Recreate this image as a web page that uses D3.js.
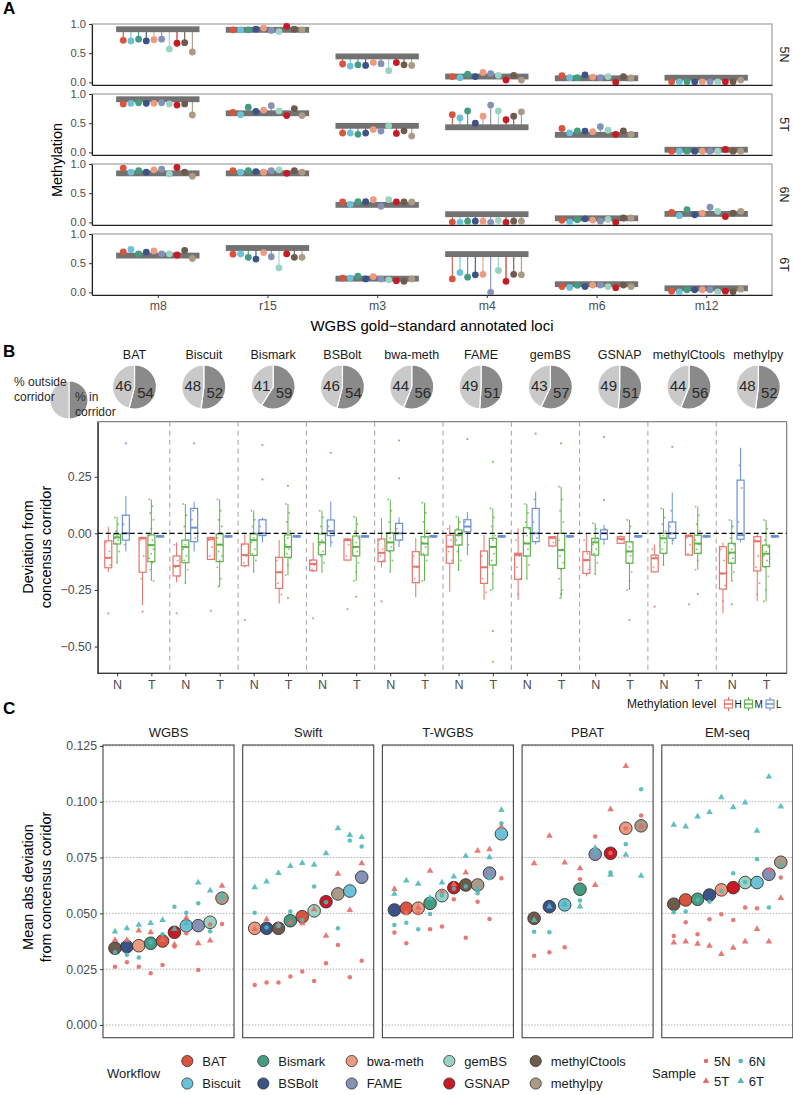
<!DOCTYPE html>
<html>
<head>
<meta charset="utf-8">
<script src="https://cdn.jsdelivr.net/npm/d3@7"></script>
<style>
  body { margin: 0; background: #fff; }
  text { font-family: "Liberation Sans", Arial, sans-serif; }
</style>
</head>
<body>
<svg id="chart" width="793" height="1095"></svg>
<script>
// ---------------- data ----------------
const workflows = ["BAT", "Biscuit", "Bismark", "BSBolt", "bwa-meth", "FAME", "gemBS", "GSNAP", "methylCtools", "methylpy"];
const wfColors = ["#d9543f", "#6cc1d7", "#449d80", "#3b5386", "#eb9b80", "#8591b5", "#9ad3c5", "#c81a24", "#6e5b4b", "#aa9a86"];

// panel A: methylation per locus, one row per locus, one value per workflow
const loci = ["m8", "r15", "m3", "m4", "m6", "m12"];
const samples = ["5N", "5T", "6N", "6T"];
const cons5N = [0.91, 0.90, 0.445, 0.10, 0.07, 0.08];
const cons5T = [0.91, 0.67, 0.455, 0.43, 0.30, 0.045];
const cons6N = [0.84, 0.84, 0.30, 0.14, 0.07, 0.145];
const cons6T = [0.63, 0.76, 0.235, 0.655, 0.14, 0.07];
const meth5N = [
  [0.72, 0.71, 0.74, 0.71, 0.73, 0.74, 0.57, 0.67, 0.68, 0.52],
  [0.90, 0.90, 0.90, 0.91, 0.93, 0.89, 0.87, 0.96, 0.91, 0.90],
  [0.315, 0.28, 0.30, 0.29, 0.34, 0.32, 0.20, 0.34, 0.30, 0.29],
  [0.10, 0.08, 0.14, 0.10, 0.17, 0.15, 0.12, 0.04, 0.12, 0.04],
  [0.115, 0.08, 0.08, 0.13, 0.09, 0.08, 0.10, 0.0, 0.10, 0.075],
  [0.01, 0.01, 0.01, 0.01, 0.01, 0.01, 0.01, 0.01, 0.01, 0.04]
];
const meth5T = [
  [0.83, 0.84, 0.85, 0.84, 0.84, 0.85, 0.83, 0.81, 0.83, 0.64],
  [0.685, 0.645, 0.775, 0.70, 0.725, 0.80, 0.71, 0.63, 0.75, 0.63],
  [0.33, 0.33, 0.31, 0.33, 0.39, 0.365, 0.455, 0.325, 0.37, 0.28],
  [0.645, 0.59, 0.71, 0.50, 0.62, 0.81, 0.71, 0.56, 0.62, 0.695],
  [0.41, 0.335, 0.37, 0.365, 0.355, 0.44, 0.38, 0.31, 0.37, 0.31],
  [0.02, 0.02, 0.02, 0.02, 0.02, 0.02, 0.02, 0.05, 0.02, 0.02]
];
const meth6N = [
  [0.93, 0.86, 0.885, 0.86, 0.90, 0.91, 0.83, 0.94, 0.86, 0.79],
  [0.885, 0.86, 0.885, 0.87, 0.86, 0.885, 0.90, 0.84, 0.885, 0.86],
  [0.35, 0.31, 0.355, 0.355, 0.39, 0.275, 0.39, 0.35, 0.35, 0.35],
  [0.005, 0.0, 0.02, 0.02, 0.02, 0.0, 0.03, 0.0, 0.02, 0.02],
  [0.035, 0.005, 0.045, 0.06, 0.04, 0.02, 0.05, 0.0, 0.075, 0.075],
  [0.17, 0.115, 0.22, 0.13, 0.16, 0.26, 0.19, 0.10, 0.16, 0.19]
];
const meth6T = [
  [0.695, 0.735, 0.66, 0.69, 0.71, 0.66, 0.66, 0.64, 0.72, 0.58],
  [0.655, 0.66, 0.60, 0.57, 0.68, 0.61, 0.42, 0.66, 0.60, 0.60],
  [0.245, 0.245, 0.28, 0.23, 0.27, 0.23, 0.215, 0.20, 0.19, 0.23],
  [0.23, 0.34, 0.26, 0.30, 0.31, 0.0, 0.375, 0.19, 0.31, 0.30],
  [0.10, 0.085, 0.12, 0.10, 0.125, 0.125, 0.10, 0.08, 0.125, 0.10],
  [0.02, 0.01, 0.045, 0.045, 0.045, 0.045, 0.01, 0.02, 0.01, 0.055]
];
const corridorHalf = 0.05;

// panel B: pies (% outside / % in corridor)
const pieOutside = [46, 48, 41, 46, 44, 49, 43, 49, 44, 48];
const pieInside = [54, 52, 59, 54, 56, 51, 57, 51, 56, 52];

// panel B: boxplots [lo, q1, median, q3, hi], per workflow: [N, T]
const levels = ["H", "M", "L"];
const tissues = ["N", "T"];
const boxH = [
  [[-0.172, -0.152, -0.108, -0.033, 0.03], [-0.317, -0.172, -0.022, -0.018, -0.016]],
  [[-0.216, -0.188, -0.144, -0.10, -0.04], [-0.118, -0.115, -0.026, -0.018, -0.015]],
  [[-0.15, -0.143, -0.096, -0.047, 0.0], [-0.31, -0.243, -0.172, -0.106, -0.03]],
  [[-0.17, -0.165, -0.135, -0.118, -0.04], [-0.118, -0.118, -0.03, -0.025, -0.02]],
  [[-0.15, -0.125, -0.086, -0.025, 0.066], [-0.283, -0.218, -0.147, -0.081, -0.02]],
  [[-0.258, -0.132, -0.059, -0.008, 0.037], [-0.294, -0.221, -0.15, -0.078, -0.008]],
  [[-0.294, -0.203, -0.095, -0.088, 0.022], [-0.06, -0.056, -0.02, -0.015, -0.012]],
  [[-0.19, -0.177, -0.118, -0.081, 0.0], [-0.048, -0.044, -0.025, -0.015, -0.01]],
  [[-0.17, -0.17, -0.11, -0.096, -0.05], [-0.096, -0.096, -0.012, -0.008, -0.005]],
  [[-0.353, -0.246, -0.177, -0.059, -0.04], [-0.30, -0.166, -0.035, -0.015, 0.0]]
];
const boxM = [
  [[-0.13, -0.047, -0.018, -0.004, 0.073], [-0.21, -0.125, -0.052, -0.007, 0.15]],
  [[-0.22, -0.13, -0.06, -0.03, 0.13], [-0.235, -0.125, -0.05, -0.003, 0.15]],
  [[-0.17, -0.097, -0.03, -0.003, 0.10], [-0.185, -0.106, -0.06, -0.007, 0.13]],
  [[-0.17, -0.094, -0.04, -0.003, 0.10], [-0.21, -0.10, -0.06, -0.012, 0.073]],
  [[-0.17, -0.077, -0.04, 0.003, 0.15], [-0.21, -0.096, -0.045, -0.015, 0.135]],
  [[-0.162, -0.052, -0.008, 0.015, 0.073], [-0.25, -0.14, -0.06, -0.022, 0.11]],
  [[-0.20, -0.10, -0.045, 0.025, 0.13], [-0.287, -0.155, -0.074, 0.0, 0.206]],
  [[-0.18, -0.096, -0.04, -0.022, 0.045], [-0.25, -0.132, -0.08, -0.037, 0.06]],
  [[-0.14, -0.088, -0.022, 0.0, 0.11], [-0.16, -0.088, -0.045, -0.008, 0.118]],
  [[-0.21, -0.132, -0.085, -0.044, 0.059], [-0.30, -0.147, -0.09, -0.052, 0.059]]
];
const boxL = [
  [[-0.08, -0.03, 0.0, 0.08, 0.165], [-0.02, -0.016, -0.013, -0.011, -0.008]],
  [[-0.08, -0.037, 0.025, 0.11, 0.14], [-0.02, -0.016, -0.013, -0.011, -0.008]],
  [[-0.04, -0.01, 0.0, 0.06, 0.07], [-0.02, -0.016, -0.013, -0.011, -0.008]],
  [[-0.06, -0.01, 0.01, 0.059, 0.14], [-0.02, -0.016, -0.013, -0.011, -0.008]],
  [[-0.06, -0.03, 0.0, 0.044, 0.07], [-0.02, -0.016, -0.013, -0.011, -0.008]],
  [[-0.096, 0.007, 0.03, 0.06, 0.095], [-0.02, -0.016, -0.013, -0.011, -0.008]],
  [[-0.05, -0.037, 0.0, 0.11, 0.184], [-0.02, -0.016, -0.013, -0.011, -0.008]],
  [[-0.05, -0.026, 0.0, 0.015, 0.037], [-0.02, -0.016, -0.013, -0.011, -0.008]],
  [[-0.05, -0.022, 0.0, 0.05, 0.18], [-0.02, -0.016, -0.013, -0.011, -0.008]],
  [[-0.04, -0.026, -0.008, 0.235, 0.378], [-0.02, -0.016, -0.013, -0.011, -0.008]]
];
// outliers, per workflow: [N, T]
const outH = [[[-0.353], [-0.346]], [[-0.353], [-0.342]], [[-0.383], []], [[-0.375], [-0.335]], [[-0.30], []],
  [[], []], [[], []], [[], []], [[-0.324], [-0.313]], [[], []]];
const outM = [[[], []], [[], []], [[], [0.21, -0.286]], [[], [-0.28]], [[], []],
  [[], [0.316, -0.431, -0.567]], [[], [0.397, -0.268]], [[], [-0.383]], [[], [-0.268]], [[-0.313], []]];
const outL = [[[0.397], []], [[0.397], []], [[0.39, 0.238], []], [[0.356], []], [[0.41, 0.243], []],
  [[0.416], []], [[0.44], []], [[0.147, 0.425], []], [[0.382], []], [[], []]];
// individual loci (jittered points), per workflow: [N, T]
const ptsH = [
  [[-0.04, -0.08, -0.11, -0.14], [-0.03, -0.1, -0.2]],
  [[-0.05, -0.12, -0.15, -0.19], [-0.03, -0.06, -0.1]],
  [[-0.05, -0.1, -0.13], [-0.12, -0.17, -0.22, -0.27]],
  [[-0.12, -0.14, -0.16], [-0.03, -0.05, -0.1]],
  [[-0.03, -0.07, -0.1, -0.12], [-0.1, -0.15, -0.2]],
  [[0.02, -0.03, -0.08, -0.12], [-0.1, -0.15, -0.2, -0.26]],
  [[-0.03, -0.1, -0.15, -0.2, -0.27], [-0.02, -0.04]],
  [[-0.03, -0.09, -0.12, -0.16], [-0.02, -0.03]],
  [[-0.07, -0.1, -0.15], [-0.02, -0.05, -0.09]],
  [[-0.07, -0.12, -0.18, -0.23, -0.3], [-0.03, -0.1, -0.15, -0.22, -0.27]]
];
const ptsM = [
  [[0.07, 0.04, 0.01, -0.005, -0.012, -0.02, -0.03, -0.045, -0.08, -0.13], [0.15, 0.12, 0.09, 0.06, 0.02, -0.01, -0.03, -0.05, -0.07, -0.09, -0.11, -0.13, -0.16, -0.21]],
  [[0.13, 0.08, 0.03, -0.03, -0.05, -0.07, -0.1, -0.12, -0.16, -0.22], [0.15, 0.1, 0.06, 0.03, 0.0, -0.02, -0.05, -0.08, -0.1, -0.12, -0.15, -0.2, -0.235]],
  [[0.1, 0.06, 0.03, 0.0, -0.02, -0.04, -0.07, -0.09, -0.12, -0.17], [0.13, 0.09, 0.05, 0.01, -0.02, -0.05, -0.07, -0.09, -0.11, -0.14, -0.185]],
  [[0.1, 0.07, 0.03, 0.0, -0.03, -0.05, -0.08, -0.1, -0.13, -0.17], [0.073, 0.04, 0.01, -0.02, -0.04, -0.06, -0.08, -0.1, -0.13, -0.17, -0.21]],
  [[0.15, 0.1, 0.05, 0.0, -0.02, -0.04, -0.06, -0.08, -0.12, -0.17], [0.135, 0.09, 0.05, 0.01, -0.02, -0.04, -0.06, -0.09, -0.12, -0.16, -0.21]],
  [[0.073, 0.05, 0.02, 0.0, -0.01, -0.03, -0.05, -0.08, -0.12, -0.162], [0.11, 0.07, 0.03, -0.01, -0.03, -0.06, -0.09, -0.12, -0.14, -0.18, -0.25]],
  [[0.13, 0.09, 0.05, 0.02, -0.01, -0.04, -0.07, -0.1, -0.14, -0.2], [0.206, 0.15, 0.1, 0.05, 0.0, -0.03, -0.07, -0.1, -0.13, -0.16, -0.2, -0.25, -0.287]],
  [[0.045, 0.02, 0.0, -0.02, -0.03, -0.05, -0.07, -0.09, -0.13, -0.18], [0.06, 0.03, 0.0, -0.04, -0.06, -0.08, -0.1, -0.13, -0.17, -0.21, -0.25]],
  [[0.11, 0.07, 0.04, 0.01, -0.01, -0.02, -0.04, -0.07, -0.09, -0.14], [0.118, 0.08, 0.04, 0.01, -0.01, -0.03, -0.05, -0.07, -0.09, -0.12, -0.16]],
  [[0.059, 0.03, -0.02, -0.05, -0.07, -0.09, -0.11, -0.13, -0.17, -0.21], [0.059, 0.02, -0.03, -0.06, -0.08, -0.1, -0.12, -0.15, -0.19, -0.25, -0.3]]
];
const ptsL = [
  [[0.04, 0.0, -0.05], [-0.01, -0.012, -0.015]],
  [[0.06, -0.02, 0.1], [-0.01, -0.012, -0.015]],
  [[0.03, 0.0], [-0.01, -0.012, -0.015]],
  [[0.03, -0.04], [-0.01, -0.012, -0.015]],
  [[0.02, -0.03], [-0.01, -0.012, -0.015]],
  [[0.05, -0.05], [-0.01, -0.012, -0.015]],
  [[0.05, -0.02, 0.15], [-0.01, -0.012, -0.015]],
  [[0.0, 0.02], [-0.01, -0.012, -0.015]],
  [[0.03, -0.03, 0.1], [-0.01, -0.012, -0.015]],
  [[0.05, 0.2, 0.3], [-0.01, -0.012, -0.015]]
];

// panel C: mean abs deviation, workflows sorted per protocol
const protocols = ["WGBS", "Swift", "T-WGBS", "PBAT", "EM-seq"];
const orderWGBS = ["methylCtools", "BSBolt", "bwa-meth", "Bismark", "BAT", "GSNAP", "Biscuit", "FAME", "gemBS", "methylpy"];
const meanWGBS = [0.0344, 0.0351, 0.0355, 0.0366, 0.0376, 0.0415, 0.0444, 0.0445, 0.046, 0.0568];
const s5N_WGBS = [0.0261, 0.0281, 0.0261, 0.0232, 0.0269, 0.0351, 0.0411, 0.0246, 0.045, 0.0452];
const s5T_WGBS = [0.038, 0.038, 0.0423, 0.0415, 0.038, 0.036, 0.048, 0.0366, 0.0378, 0.0623];
const s6N_WGBS = [0.0326, 0.0314, 0.0302, 0.037, 0.0406, 0.053, 0.0503, 0.0545, 0.042, 0.057];
const s6T_WGBS = [0.0418, 0.0433, 0.0448, 0.0456, 0.047, 0.0429, 0.0455, 0.0638, 0.0602, 0.058];

const orderSwift = ["bwa-meth", "BSBolt", "methylCtools", "Bismark", "BAT", "gemBS", "GSNAP", "methylpy", "Biscuit", "FAME"];
const meanSwift = [0.0433, 0.0433, 0.0433, 0.0467, 0.0485, 0.0511, 0.0552, 0.0587, 0.060, 0.0662];
const s5N_Swift = [0.0179, 0.019, 0.019, 0.0217, 0.0239, 0.0197, 0.0276, 0.0358, 0.0214, 0.0288];
const s5T_Swift = [0.043, 0.0473, 0.045, 0.046, 0.0455, 0.0518, 0.0399, 0.0677, 0.0515, 0.0724];
const s6N_Swift = [0.0503, 0.0437, 0.0443, 0.0508, 0.047, 0.062, 0.055, 0.0433, 0.0826, 0.0799];
const s6T_Swift = [0.0617, 0.0642, 0.068, 0.0712, 0.0725, 0.0717, 0.0769, 0.0881, 0.0851, 0.0841];

const orderTWGBS = ["BSBolt", "BAT", "bwa-meth", "Bismark", "gemBS", "GSNAP", "methylCtools", "methylpy", "FAME", "Biscuit"];
const meanTWGBS = [0.0515, 0.0523, 0.0523, 0.0545, 0.0579, 0.0615, 0.0627, 0.0627, 0.068, 0.0856];
const s5N_TWGBS = [0.0414, 0.0366, 0.050, 0.0429, 0.0441, 0.0563, 0.0391, 0.0552, 0.0475, 0.0657];
const s5T_TWGBS = [0.0609, 0.050, 0.0525, 0.069, 0.0597, 0.063, 0.0683, 0.078, 0.0787, 0.0889];
const s6N_TWGBS = [0.0448, 0.0458, 0.0429, 0.0497, 0.058, 0.061, 0.062, 0.059, 0.0657, 0.0904];
const s6T_TWGBS = [0.0587, 0.0647, 0.0632, 0.0568, 0.0638, 0.0665, 0.0757, 0.061, 0.0751, 0.0963];

const orderPBAT = ["methylCtools", "BSBolt", "Biscuit", "Bismark", "FAME", "GSNAP", "bwa-meth", "methylpy"];
const meanPBAT = [0.0478, 0.053, 0.0538, 0.0608, 0.0765, 0.0769, 0.0881, 0.0892];
const s5N_PBAT = [0.031, 0.0326, 0.0348, 0.0653, 0.0844, 0.077, 0.088, 0.0938];
const s5T_PBAT = [0.0724, 0.0847, 0.0727, 0.0702, 0.0627, 0.0966, 0.116, 0.089];
const s6N_PBAT = [0.0418, 0.0415, 0.054, 0.0557, 0.077, 0.0683, 0.081, 0.1056];
const s6T_PBAT = [0.047, 0.053, 0.054, 0.053, 0.0792, 0.0672, 0.0762, 0.0668];

const orderEMseq = ["methylCtools", "BAT", "Bismark", "BSBolt", "bwa-meth", "GSNAP", "gemBS", "Biscuit", "FAME", "methylpy"];
const meanEMseq = [0.0541, 0.056, 0.0563, 0.0582, 0.0605, 0.0615, 0.0638, 0.0638, 0.0675, 0.0729];
const s5N_EMseq = [0.0399, 0.046, 0.0406, 0.0474, 0.0496, 0.047, 0.0526, 0.0523, 0.0694, 0.066];
const s5T_EMseq = [0.0369, 0.0373, 0.0363, 0.0355, 0.0318, 0.0346, 0.0373, 0.043, 0.0373, 0.0568];
const s6N_EMseq = [0.0505, 0.0508, 0.056, 0.0552, 0.06, 0.068, 0.064, 0.0742, 0.0526, 0.0717];
const s6T_EMseq = [0.0896, 0.0889, 0.0933, 0.0953, 0.102, 0.0975, 0.0996, 0.087, 0.1112, 0.0978];

const sampleKeys = ["5N", "5T", "6N", "6T"];

// ---------------- drawing ----------------
const svg = d3.select("#chart");
const tickGray = "#4d4d4d";
const lato = "Lato, 'Open Sans', sans-serif";
const colorOf = w => wfColors[workflows.indexOf(w)];

function styleAxis(g, size) {
  g.select(".domain").attr("stroke", "#222").attr("stroke-width", 1.1);
  g.selectAll(".tick line").attr("stroke", "#333");
  g.selectAll(".tick text").attr("fill", tickGray).attr("font-size", size || 12.3)
    .attr("font-family", "Liberation Sans, Arial, sans-serif");
}

// panel letters
[["A", 14], ["B", 357], ["C", 714]].forEach(([l, y]) => {
  svg.append("text").attr("x", 3).attr("y", y).attr("font-size", 17).attr("font-weight", "bold").text(l);
});

// ===== Panel A =====
const aLeft = 92, aRight = 772, aH = 61;
const aTops = [24, 94, 164, 234];
const xA = d3.scalePoint().domain(loci).range([aLeft, aRight]).padding(0.6);
const stepA = xA.step();
const methA = [meth5N, meth5T, meth6N, meth6T];
const consA = [cons5N, cons5T, cons6N, cons6T];

samples.forEach((s, k) => {
  const top = aTops[k];
  const y = d3.scaleLinear().domain([-0.045, 1]).range([top + aH, top]);
  const g = svg.append("g");
  g.append("rect").attr("x", aLeft).attr("y", top).attr("width", aRight - aLeft).attr("height", aH)
    .attr("fill", "none").attr("stroke", "#8c8c8c").attr("stroke-width", 1);

  loci.forEach((l, j) => {
    const cx = xA(l), c = consA[k][j];
    const vals = methA[k][j];
    const px = i => cx + (i - 4.5) * stepA * 0.07;
    // stems
    vals.forEach((v, i) => {
      g.append("line").attr("x1", px(i)).attr("x2", px(i)).attr("y1", y(c)).attr("y2", y(v))
        .attr("stroke", wfColors[i]).attr("stroke-width", 1.1);
    });
    // corridor bar
    g.append("rect").attr("x", cx - stepA * 0.38).attr("width", stepA * 0.76)
      .attr("y", y(c + corridorHalf)).attr("height", y(c - corridorHalf) - y(c + corridorHalf))
      .attr("fill", "#727272");
    // dots
    vals.forEach((v, i) => {
      g.append("circle").attr("cx", px(i)).attr("cy", y(v)).attr("r", 3.4).attr("fill", wfColors[i]);
    });
  });

  const ax = g.append("g").attr("transform", `translate(${aLeft},0)`)
    .call(d3.axisLeft(y).tickValues([0, 0.5, 1]).tickFormat(d3.format(".1f")).tickSize(3).tickSizeOuter(0));
  styleAxis(ax, 11.2);
  const bx = g.append("g").attr("transform", `translate(0,${top + aH})`)
    .call(d3.axisBottom(xA).tickSize(k === 3 ? 3 : 0).tickSizeOuter(0).tickPadding(3));
  styleAxis(bx);
  if (k !== 3) bx.selectAll(".tick text").remove();

  g.append("text").attr("transform", `translate(780,${top + aH / 2}) rotate(90)`)
    .attr("text-anchor", "middle").attr("font-size", 12.5).attr("fill", "#1a1a1a").text(s);
});
svg.append("text").attr("transform", "translate(62,160) rotate(-90)").attr("text-anchor", "middle")
  .attr("font-size", 14.5).text("Methylation");
svg.append("text").attr("x", (aLeft + aRight) / 2).attr("y", 331).attr("text-anchor", "middle")
  .attr("font-size", 15).text("WGBS gold\u2212standard annotated loci");

// ===== Panel B: pies =====
const xPie = d3.scalePoint().domain(workflows).range([134.5, 758.3]);
const pieGen = d3.pie().sort(null).value(d => d);
const pieY = 387;
const pieFill = ["#8a8a8a", "#c9c9c9"];
workflows.forEach((w, i) => {
  const g = svg.append("g").attr("transform", `translate(${xPie(w)},${pieY})`);
  g.selectAll("path").data(pieGen([pieInside[i], pieOutside[i]])).join("path")
    .attr("d", d3.arc().innerRadius(0).outerRadius(22))
    .attr("fill", (d, j) => pieFill[j]).attr("stroke", "#fff").attr("stroke-width", 1.2);
  g.append("text").attr("x", -11).attr("y", 4).attr("text-anchor", "middle").attr("font-size", 15)
    .attr("font-family", lato).attr("fill", "#2a2a2a").text(pieOutside[i]);
  g.append("text").attr("x", 11).attr("y", 11).attr("text-anchor", "middle").attr("font-size", 15)
    .attr("font-family", lato).attr("fill", "#2a2a2a").text(pieInside[i]);
  svg.append("text").attr("x", xPie(w)).attr("y", 359).attr("text-anchor", "middle")
    .attr("font-size", 12.5).attr("fill", "#1a1a1a").text(w);
});
// legend pie
{
  const g = svg.append("g").attr("transform", "translate(69,400)");
  g.selectAll("path").data(pieGen([50, 50])).join("path")
    .attr("d", d3.arc().innerRadius(0).outerRadius(19))
    .attr("fill", (d, j) => pieFill[j]).attr("stroke", "#fff").attr("stroke-width", 1);
  [["% outside", 14, 386], ["corridor", 14, 401], ["% in", 75, 401], ["corridor", 75, 416]].forEach(([t, x, y]) => {
    svg.append("text").attr("x", x).attr("y", y).attr("font-size", 12).attr("font-family", lato)
      .attr("fill", "#2a2a2a").text(t);
  });
}

// ===== Panel B: boxplots =====
const bL = 97.7, bR = 786.7, bT = 421.7, bB = 673.3;
const yB = d3.scaleLinear().domain([-0.618, 0.493]).range([bB, bT]);
const gBand = d3.scaleBand().domain(workflows).range([101.5, 784.5]);
const bw = gBand.bandwidth();
const tissueOff = [0.228, 0.73];
const levelColors = ["#e8736c", "#5fb24a", "#6b8fd6"];
const boxSets = [boxH, boxM, boxL];
const outSets = [outH, outM, outL];
const ptSets = [ptsH, ptsM, ptsL];
const gb = svg.append("g");
gb.append("rect").attr("x", bL).attr("y", bT).attr("width", bR - bL).attr("height", bB - bT)
  .attr("fill", "none").attr("stroke", "#666");
workflows.slice(1).forEach(w => {
  gb.append("line").attr("x1", gBand(w)).attr("x2", gBand(w)).attr("y1", bT).attr("y2", bB)
    .attr("stroke", "#a0a0a0").attr("stroke-dasharray", "5,4").attr("stroke-width", 1);
});
const tickKeys = [], tickPos = [];
workflows.forEach((w, i) => {
  tissues.forEach((t, ti) => {
    const cx = gBand(w) + tissueOff[ti] * bw;
    tickKeys.push(w + "|" + t); tickPos.push(cx);
    levels.forEach((lv, li) => {
      const [lo, q1, med, q3, hi] = boxSets[li][i][ti];
      const x = cx + (li - 1) * 8.8;
      const col = levelColors[li];
      gb.append("line").attr("x1", x).attr("x2", x).attr("y1", yB(hi)).attr("y2", yB(q3)).attr("stroke", col);
      gb.append("line").attr("x1", x).attr("x2", x).attr("y1", yB(q1)).attr("y2", yB(lo)).attr("stroke", col);
      gb.append("rect").attr("x", x - 3.5).attr("width", 7).attr("y", yB(q3))
        .attr("height", Math.max(0.8, yB(q1) - yB(q3))).attr("fill", "none").attr("stroke", col).attr("stroke-width", 1.2);
      gb.append("line").attr("x1", x - 3.5).attr("x2", x + 3.5).attr("y1", yB(med)).attr("y2", yB(med))
        .attr("stroke", col).attr("stroke-width", 2);
      outSets[li][i][ti].forEach(v => {
        gb.append("circle").attr("cx", x).attr("cy", yB(v)).attr("r", 1.1).attr("fill", col).attr("opacity", 0.8);
      });
      // jittered loci (horizontal jitter only)
      ptSets[li][i][ti].forEach((v, j) => {
        gb.append("circle").attr("cx", x + ((j * 3) % 5 - 2) * 1.1).attr("cy", yB(v)).attr("r", 0.95)
          .attr("fill", col).attr("opacity", 0.75);
      });
    });
  });
});
gb.append("line").attr("x1", bL).attr("x2", bR).attr("y1", yB(0)).attr("y2", yB(0))
  .attr("stroke", "#000").attr("stroke-width", 1.3).attr("stroke-dasharray", "5,3");
const axB = gb.append("g").attr("transform", `translate(${bL},0)`)
  .call(d3.axisLeft(yB).tickValues([-0.5, -0.25, 0, 0.25]).tickFormat(d3.format(".2f")).tickSize(3).tickSizeOuter(0));
styleAxis(axB);
const xTicksB = d3.scaleOrdinal().domain(tickKeys).range(tickPos);
const axBx = gb.append("g").attr("transform", `translate(0,${bB})`)
  .call(d3.axisBottom(xTicksB).tickSize(3).tickPadding(4).tickFormat(d => d.split("|")[1]));
styleAxis(axBx, 12.5);
axBx.select(".domain").remove();
gb.append("line").attr("x1", bL).attr("x2", bR).attr("y1", bB).attr("y2", bB).attr("stroke", "#222").attr("stroke-width", 1.1);
svg.append("text").attr("transform", "translate(33,547) rotate(-90)").attr("text-anchor", "middle")
  .attr("font-size", 14.5).text("Deviation from");
svg.append("text").attr("transform", "translate(51,547) rotate(-90)").attr("text-anchor", "middle")
  .attr("font-size", 14.5).text("concensus corridor");

// methylation level legend
{
  const g = svg.append("g");
  g.append("text").attr("x", 627).attr("y", 708).attr("font-size", 12).attr("fill", "#1a1a1a").text("Methylation level");
  const iconX = [728.5, 748.5, 770], labX = [734.5, 754.5, 776];
  levels.forEach((lv, li) => {
    const col = levelColors[li], x = iconX[li];
    g.append("line").attr("x1", x).attr("x2", x).attr("y1", 697).attr("y2", 711).attr("stroke", col);
    g.append("rect").attr("x", x - 4).attr("y", 700).attr("width", 8).attr("height", 8)
      .attr("fill", "#fff").attr("stroke", col).attr("stroke-width", 1.1);
    g.append("line").attr("x1", x - 4).attr("x2", x + 4).attr("y1", 704).attr("y2", 704).attr("stroke", col).attr("stroke-width", 1.5);
    g.append("text").attr("x", labX[li]).attr("y", 708).attr("font-size", 10).attr("fill", "#1a1a1a").text(lv);
  });
}

// ===== Panel C =====
const cT = 745, cBot = 1037.7, cW = 131, cStep = 139.7, cX0 = 103;
const yC = d3.scaleLinear().domain([-0.0057, 0.1254]).range([cBot, cT]);
const orders = [orderWGBS, orderSwift, orderTWGBS, orderPBAT, orderEMseq];
const means = [meanWGBS, meanSwift, meanTWGBS, meanPBAT, meanEMseq];
const smp = [
  [s5N_WGBS, s5T_WGBS, s6N_WGBS, s6T_WGBS],
  [s5N_Swift, s5T_Swift, s6N_Swift, s6T_Swift],
  [s5N_TWGBS, s5T_TWGBS, s6N_TWGBS, s6T_TWGBS],
  [s5N_PBAT, s5T_PBAT, s6N_PBAT, s6T_PBAT],
  [s5N_EMseq, s5T_EMseq, s6N_EMseq, s6T_EMseq]
];
const sampleColor = ["#e26d67", "#e26d67", "#4fb8b8", "#4fb8b8"];
const sampleShape = [d3.symbolCircle, d3.symbolTriangle, d3.symbolCircle, d3.symbolTriangle];
const sampleSize = [16, 19, 16, 19];
const cTicks = [0, 0.025, 0.05, 0.075, 0.1, 0.125];

protocols.forEach((p, k) => {
  const x0 = cX0 + k * cStep;
  const g = svg.append("g");
  cTicks.forEach(t => {
    g.append("line").attr("x1", x0).attr("x2", x0 + cW).attr("y1", yC(t)).attr("y2", yC(t))
      .attr("stroke", "#9a9a9a").attr("stroke-width", 0.8).attr("stroke-dasharray", "1.5,1.5");
  });
  g.append("rect").attr("x", x0).attr("y", cT).attr("width", cW).attr("height", cBot - cT)
    .attr("fill", "none").attr("stroke", "#444").attr("stroke-width", 1.1);
  g.append("text").attr("x", x0 + cW / 2).attr("y", 737).attr("text-anchor", "middle")
    .attr("font-size", 13).attr("fill", "#1a1a1a").text(p);
  const xs = d3.scalePoint().domain(orders[k]).range([x0 + 12, x0 + cW - 12]);
  orders[k].forEach((w, i) => {
    g.append("circle").attr("cx", xs(w)).attr("cy", yC(means[k][i])).attr("r", 6.3)
      .attr("fill", colorOf(w)).attr("stroke", "#333").attr("stroke-width", 0.9);
  });
  sampleKeys.forEach((s, si) => {
    orders[k].forEach((w, i) => {
      g.append("path").attr("transform", `translate(${xs(w)},${yC(smp[k][si][i])})`)
        .attr("d", d3.symbol(sampleShape[si], sampleSize[si])()).attr("fill", sampleColor[si]).attr("opacity", 0.9);
    });
  });
});
const axC = svg.append("g").attr("transform", `translate(${cX0},0)`)
  .call(d3.axisLeft(yC).tickValues(cTicks).tickFormat(d3.format(".3f")).tickSize(3).tickSizeOuter(0));
styleAxis(axC);
axC.select(".domain").remove();
svg.append("text").attr("transform", "translate(33,887) rotate(-90)").attr("text-anchor", "middle")
  .attr("font-size", 14.5).text("Mean abs deviation");
svg.append("text").attr("transform", "translate(51,887) rotate(-90)").attr("text-anchor", "middle")
  .attr("font-size", 14.5).text("from concensus coridor");

// workflow legend
{
  const g = svg.append("g");
  g.append("text").attr("x", 107).attr("y", 1078).attr("font-size", 13).attr("fill", "#1a1a1a").text("Workflow");
  const colX = [187.3, 263.3, 351.7, 449.3, 535.7];
  workflows.forEach((w, i) => {
    const col = Math.floor(i / 2), row = i % 2;
    const x = colX[col], y = row ? 1083.5 : 1061;
    g.append("circle").attr("cx", x).attr("cy", y).attr("r", 5.6).attr("fill", wfColors[i])
      .attr("stroke", "#333").attr("stroke-width", 0.8);
    g.append("text").attr("x", x + 15).attr("y", y + 4.5).attr("font-size", 13).attr("fill", "#1a1a1a").text(w);
  });
  g.append("text").attr("x", 652).attr("y", 1078).attr("font-size", 13).attr("fill", "#1a1a1a").text("Sample");
  const sx = [706, 706, 740.7, 740.7], sy = [1061, 1081, 1061, 1081];
  sampleKeys.forEach((s, si) => {
    g.append("path").attr("transform", `translate(${sx[si]},${sy[si]})`)
      .attr("d", d3.symbol(sampleShape[si], sampleSize[si])()).attr("fill", sampleColor[si]);
    g.append("text").attr("x", sx[si] + 8).attr("y", sy[si] + 4.5).attr("font-size", 13).attr("fill", "#1a1a1a").text(s);
  });
}
</script>
</body>
</html>
